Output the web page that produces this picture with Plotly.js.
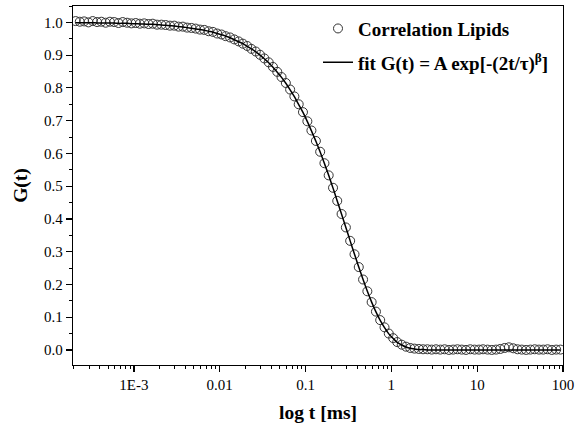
<!DOCTYPE html>
<html>
<head>
<meta charset="utf-8">
<script src="https://cdn.plot.ly/plotly-3.0.1.min.js"></script>
<style>html,body{margin:0;padding:0;background:#fff;}#chart{width:576px;height:432px;}</style>
</head>
<body>
<div id="chart"></div>
<script>
// lag time t [ms]
const tValues = [
 2.09e-4,2.34e-4,2.63e-4,2.95e-4,3.31e-4,3.72e-4,4.17e-4,
 4.68e-4,5.25e-4,5.89e-4,6.61e-4,7.41e-4,8.32e-4,9.33e-4,
 1.05e-3,1.17e-3,1.32e-3,1.48e-3,1.66e-3,1.86e-3,2.09e-3,
 2.34e-3,2.63e-3,2.95e-3,3.31e-3,3.72e-3,4.17e-3,4.68e-3,
 5.25e-3,5.89e-3,6.61e-3,7.41e-3,8.32e-3,9.33e-3,0.0105,
 0.0117,0.0132,0.0148,0.0166,0.0186,0.0209,0.0234,
 0.0263,0.0295,0.0331,0.0372,0.0417,0.0468,0.0525,
 0.0589,0.0661,0.0741,0.0832,0.0933,0.105,0.117,
 0.132,0.148,0.166,0.186,0.209,0.234,0.263,
 0.295,0.331,0.372,0.417,0.468,0.525,0.589,
 0.661,0.741,0.832,0.933,1.05,1.17,1.32,
 1.48,1.66,1.86,2.09,2.34,2.63,2.95,
 3.31,3.72,4.17,4.68,5.25,5.89,6.61,7.41,8.32,9.33,
 10.5,11.7,13.2,14.8,16.6,18.6,20.9,23.4,26.3,29.5,
 33.1,37.2,41.7,46.8,52.5,58.9,66.1,74.1,83.2,93.3
];
// measured correlation G(t)
const gData = [
 1.004,1.002,1.003,1.000,1.004,1.001,1.002,
 0.999,1.002,1.001,0.998,1.001,0.999,0.997,
 0.998,0.996,0.997,0.995,0.996,0.993,0.993,
 0.992,0.990,0.990,0.987,0.987,0.984,0.983,
 0.981,0.978,0.977,0.973,0.971,0.966,0.963,
 0.958,0.954,0.948,0.942,0.935,0.928,0.919,
 0.911,0.901,0.890,0.878,0.864,0.849,0.833,
 0.815,0.795,0.774,0.750,0.726,0.698,0.670,
 0.638,0.605,0.570,0.533,0.495,0.455,0.415,
 0.374,0.333,0.292,0.253,0.215,0.179,0.146,
 0.117,0.091,0.069,0.050,0.036,0.024,0.016,
 0.010,0.006,0.004,0.003,0.002,0.002,0.001,
 0.002,0.001,0.002,0.000,0.001,0.002,0.001,0.000,0.002,0.001,
 0.001,0.002,0.001,0.000,0.001,0.003,0.006,0.008,0.005,0.002,
 0.001,0.000,0.001,0.002,0.001,0.001,0.002,0.000,0.001,0.001
];
// fitted curve values at the same lag times
const gFit = [
 0.999,0.999,0.999,0.999,0.999,0.998,0.998,
 0.998,0.998,0.998,0.997,0.997,0.997,0.996,
 0.996,0.995,0.995,0.994,0.994,0.993,0.992,
 0.991,0.990,0.989,0.987,0.986,0.984,0.982,
 0.980,0.978,0.976,0.973,0.970,0.966,0.962,
 0.958,0.953,0.947,0.941,0.935,0.927,0.919,
 0.910,0.900,0.889,0.877,0.863,0.848,0.832,
 0.814,0.794,0.773,0.749,0.725,0.697,0.669,
 0.637,0.604,0.569,0.533,0.494,0.455,0.414,
 0.374,0.333,0.292,0.253,0.215,0.179,0.146,
 0.116,0.090,0.068,0.049,0.035,0.023,0.015,
 0.009,0.005,0.003,0.001,0.001,0.000,0.000,
 0.000,0.000,0.000,0.000,0.000,0.000,0.000,0.000,0.000,0.000,
 0.000,0.000,0.000,0.000,0.000,0.000,0.000,0.000,0.000,0.000,
 0.000,0.000,0.000,0.000,0.000,0.000,0.000,0.000,0.000,0.000
];
const xTickVals = [0.001,0.01,0.1,1,10,100];
const xTickText = ['1E-3','0.01','0.1','1','10','100'];
const dataName = 'Correlation Lipids';
const fitName = 'fit G(t) = A exp[-(2t/τ)<sup>β</sup>]';

const minorX = [];
for (let e = -4; e <= 1; e++) for (let m = 2; m <= 9; m++) minorX.push(m * Math.pow(10, e));

const serif = 'Liberation Serif';
const traces = [
  {x: tValues, y: gData, type: 'scatter', mode: 'markers', name: dataName, legendgroup: 'a',
   marker: {symbol: 'circle-open', size: 9, color: '#333', line: {width: 1}}},
  {x: tValues, y: gFit, type: 'scatter', mode: 'lines', name: fitName, legendgroup: 'b',
   line: {color: '#000', width: 1.5, shape: 'spline'}}
];
const axisCommon = {showgrid: false, zeroline: false, showline: true, mirror: true,
  linecolor: '#000', linewidth: 1.3, ticks: 'outside', tickcolor: '#000', tickwidth: 1.2,
  ticklen: 6, tickfont: {family: serif, size: 15, color: '#000'}};
const layout = {
  width: 576, height: 432, paper_bgcolor: '#fff', plot_bgcolor: '#fff',
  font: {family: serif, color: '#000'},
  margin: {l: 73, r: 13, t: 6, b: 67},
  showlegend: true,
  legend: {x: 0.5, y: 0.99, xanchor: 'left', yanchor: 'top', bgcolor: 'rgba(0,0,0,0)',
    font: {family: serif, size: 19, color: '#000', weight: 'bold'}, tracegroupgap: 6},
  xaxis: Object.assign({}, axisCommon, {type: 'log',
    range: [Math.log10(1.95e-4), 2], tickmode: 'array', tickvals: xTickVals, ticktext: xTickText,
    minor: {tickmode: 'array', tickvals: minorX, ticks: 'outside', ticklen: 3, tickcolor: '#000', tickwidth: 1},
    title: {text: 'log t [ms]', font: {family: serif, size: 19.5, color: '#000', weight: 'bold'}, standoff: 13}}),
  yaxis: Object.assign({}, axisCommon, {range: [-0.046, 1.05], dtick: 0.1, tick0: 0, tickformat: '.1f',
    minor: {dtick: 0.05, tick0: 0, ticks: 'outside', ticklen: 3, tickcolor: '#000', tickwidth: 1},
    title: {text: 'G(t)', font: {family: serif, size: 19.5, color: '#000', weight: 'bold'}, standoff: 11}})
};
Plotly.newPlot('chart', traces, layout, {displayModeBar: false, staticPlot: true});
</script>
</body>
</html>
